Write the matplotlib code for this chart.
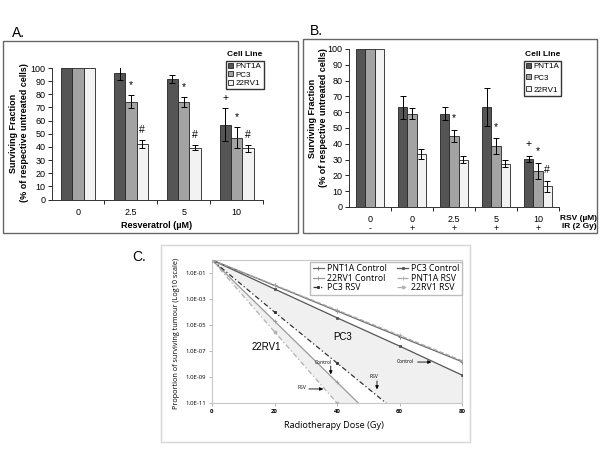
import numpy as np
import matplotlib.pyplot as plt
from matplotlib.patches import Rectangle, Patch
from matplotlib.lines import Line2D
from matplotlib.ticker import FixedLocator, NullFormatter

plt.rcParams['font.family'] = ['Liberation Sans', 'DejaVu Sans']

# ---- panel A: resveratrol alone ----
doses_a = ['0', '2.5', '5', '10']
cell_lines = ['PNT1A', 'PC3', '22RV1']
a_vals = {
    'PNT1A': [100, 96, 91.5, 57],
    'PC3': [100, 74.5, 74, 47],
    '22RV1': [100, 42, 39.5, 39],
}
a_err = {
    'PNT1A': [0, 5, 3, 12.5],
    'PC3': [0, 5, 4, 8],
    '22RV1': [0, 3, 2, 2.5],
}
a_marks = {
    'PNT1A': ['', '', '', '+'],
    'PC3': ['', '*', '*', '*'],
    '22RV1': ['', '#', '#', '#'],
}

# ---- panel B: resveratrol + IR ----
rsv_labels = ['0', '0', '2.5', '5', '10']
ir_labels = ['-', '+', '+', '+', '+']
b_vals = {
    'PNT1A': [100, 63, 59, 63.5, 30.5],
    'PC3': [100, 59, 45, 38.5, 23],
    '22RV1': [100, 33.5, 30, 27.5, 13],
}
b_err = {
    'PNT1A': [0, 7, 4, 12, 2],
    'PC3': [0, 3.5, 4, 5, 5],
    '22RV1': [0, 3, 2, 2.5, 3.5],
}
b_marks = {
    'PNT1A': ['', '', '', '', '+'],
    'PC3': ['', '', '*', '*', '*'],
    '22RV1': ['', '', '', '', '#'],
}

# ---- panel C: modelled tumour survival ----
dose_gy = [0, 20, 40, 60, 80]
surv = {
    'PNT1A Control': [1, 1.1e-2, 1.2e-4, 1.3e-6, 1.5e-8],
    'PC3 Control': [1, 5.9e-3, 3.6e-5, 2.4e-7, 1.4e-9],
    '22RV1 Control': [1, 2e-5, 4e-10, 8e-15, 1.6e-19],
    'PNT1A RSV': [1, 1.2e-2, 1.4e-4, 1.6e-6, 1.8e-8],
    'PC3 RSV': [1, 1e-4, 1.2e-8, 1.4e-12, 1.6e-16],
    '22RV1 RSV': [1, 3e-6, 1e-11, 3e-17, 1e-22],
}

bar_colors = {'PNT1A': '#555555', 'PC3': '#a3a3a3', '22RV1': '#f2f2f2'}
line_styles = {
    'PNT1A Control': dict(color='#6a6a6a', ls='-', marker='+', ms=3),
    'PC3 Control': dict(color='#555555', ls='-', marker='s', ms=2),
    '22RV1 Control': dict(color='#9a9a9a', ls='-', marker='+', ms=3),
    'PNT1A RSV': dict(color='#a8a8a8', ls='--', marker='+', ms=2.5),
    'PC3 RSV': dict(color='#333333', ls=(0, (4, 2, 1, 2)), marker='s', ms=2),
    '22RV1 RSV': dict(color='#b0b0b0', ls=(0, (4, 2, 1, 2)), marker='o', ms=2),
}

W, H = 600, 450


def box(x0, y0, x1, y1):
    return [x0 / W, 1 - y1 / H, (x1 - x0) / W, (y1 - y0) / H]


def fxy(x, y):
    return x / W, 1 - y / H


fig = plt.figure(figsize=(6, 4.5), dpi=100)

# panel frames
fig.patches.append(Rectangle((3 / W, 1 - 233 / H), 295 / W, 192 / H, transform=fig.transFigure,
                             fill=False, edgecolor='#666666', lw=1))
fig.patches.append(Rectangle((303 / W, 1 - 233 / H), 294 / W, 194 / H, transform=fig.transFigure,
                             fill=False, edgecolor='#666666', lw=1))
fig.patches.append(Rectangle((161 / W, 1 - 442 / H), 309 / W, 197 / H, transform=fig.transFigure,
                             fill=False, edgecolor='#d6d6d6', lw=1))


def bar_panel(ax, cats, vals, errs, marks, w=0.215):
    x = np.arange(len(cats))
    for i, cl in enumerate(cell_lines):
        xi = x + (i - 1) * w
        ax.bar(xi, vals[cl], w, color=bar_colors[cl], edgecolor='#222222', lw=0.6, zorder=2)
        e = np.array(errs[cl])
        ax.errorbar(xi[e > 0], np.array(vals[cl])[e > 0], yerr=e[e > 0], fmt='none',
                    ecolor='black', elinewidth=0.7, capsize=2.5, capthick=0.7, zorder=3)
        for xx, v, ee, m in zip(xi, vals[cl], errs[cl], marks[cl]):
            if m:
                ax.text(xx, v + ee + 4, m, ha='center', va='bottom', fontsize=7.5)
    ax.set_xlim(-0.5, len(cats) - 0.5)
    ax.set_ylim(0, 100)
    ax.set_yticks(range(0, 101, 10))
    ax.spines[['top', 'right']].set_visible(False)
    for s in ['left', 'bottom']:
        ax.spines[s].set_color('#333333')
        ax.spines[s].set_linewidth(0.7)
    ax.xaxis.set_minor_locator(FixedLocator(np.arange(0.5, len(cats), 1.0)))
    ax.xaxis.set_minor_formatter(NullFormatter())
    ax.tick_params(axis='x', which='major', length=0, pad=6, labelsize=6.5)
    ax.tick_params(axis='x', which='minor', length=3, width=0.6, direction='out')
    ax.tick_params(axis='y', length=3, width=0.6, labelsize=6.5, pad=1.5)


def cell_legend(ax, anchor, spacing):
    handles = [Patch(facecolor=bar_colors[c], edgecolor='#222222', lw=0.6, label=c) for c in cell_lines]
    ax.legend(handles=handles, loc='upper right', bbox_to_anchor=anchor, bbox_transform=fig.transFigure,
              fontsize=5.8, frameon=True, fancybox=False, edgecolor='#333333', framealpha=1,
              handlelength=0.6, handleheight=0.6, handletextpad=0.3, labelspacing=spacing,
              borderpad=0.25, borderaxespad=0)


# ---- A ----
axA = fig.add_axes(box(51.6, 68, 263, 199.5))
bar_panel(axA, doses_a, a_vals, a_err, a_marks)
axA.set_xticks(range(len(doses_a)))
axA.set_xticklabels(doses_a)
cell_legend(axA, fxy(263.5, 60.5), 0.15)
fig.text(*fxy(245, 55), 'Cell Line', ha='center', va='center', fontsize=6, fontweight='bold')
fig.text(*fxy(19, 41 + 92), 'Surviving Fraction\n(% of respective untreated cells)', rotation=90,
         ha='center', va='center', fontsize=6.5, fontweight='bold', linespacing=1.3)
fig.text(*fxy(157, 225.5), 'Resveratrol (µM)', ha='center', va='center', fontsize=6.5, fontweight='bold')
fig.text(*fxy(12, 33), 'A.', ha='left', va='center', fontsize=10)

# ---- B ----
axB = fig.add_axes(box(349, 49, 559, 207))
bar_panel(axB, rsv_labels, b_vals, b_err, b_marks)
axB.set_xticks(range(len(rsv_labels)))
axB.set_xticklabels([f'{r}\n{i}' for r, i in zip(rsv_labels, ir_labels)], linespacing=0.95)
cell_legend(axB, fxy(561, 60.5), 0.55)
fig.text(*fxy(543, 55), 'Cell Line', ha='center', va='center', fontsize=6, fontweight='bold')
fig.text(*fxy(318, 118), 'Surviving Fraction\n(% of respective untreated cells)', rotation=90,
         ha='center', va='center', fontsize=6.5, fontweight='bold', linespacing=1.3)
fig.text(*fxy(578, 218), 'RSV (µM)', ha='center', va='center', fontsize=6, fontweight='bold')
fig.text(*fxy(579, 226.5), 'IR (2 Gy)', ha='center', va='center', fontsize=6, fontweight='bold')
fig.text(*fxy(310, 31), 'B.', ha='left', va='center', fontsize=10)

# ---- C ----
cfont = ['Open Sans', 'DejaVu Sans']
axC = fig.add_axes(box(212, 260, 462, 403))
axC.set_yscale('log')
axC.fill_between(dose_gy, surv['PC3 Control'], surv['PC3 RSV'], color='#f0f0f0', lw=0, zorder=1)
axC.fill_between(dose_gy, surv['22RV1 Control'], surv['22RV1 RSV'], color='#f0f0f0', lw=0, zorder=1)
order = ['PNT1A Control', '22RV1 Control', 'PC3 RSV', 'PC3 Control', 'PNT1A RSV', '22RV1 RSV']
handles = []
for name in order:
    st = line_styles[name]
    ln, = axC.plot(dose_gy, surv[name], color=st['color'], ls=st['ls'], lw=0.9, marker=st['marker'],
                   ms=st['ms'], mec=st['color'], mfc=st['color'], mew=0.6, zorder=3, label=name)
    handles.append(ln)
axC.set_xlim(0, 80)
axC.set_ylim(1e-11, 1)
axC.set_xticks([0, 20, 40, 60, 80])
axC.set_yticks([1e-1, 1e-3, 1e-5, 1e-7, 1e-9, 1e-11])
axC.set_yticklabels(['1.0E-01', '1.0E-03', '1.0E-05', '1.0E-07', '1.0E-09', '1.0E-11'])
axC.yaxis.set_minor_locator(FixedLocator([]))
for s in axC.spines.values():
    s.set_color('#c8c8c8')
    s.set_linewidth(0.8)
axC.tick_params(axis='both', length=2, width=0.5, color='#999999', labelsize=4.3, pad=2)
for lab in axC.get_xticklabels() + axC.get_yticklabels():
    lab.set_family(cfont)
for lab in axC.get_xticklabels():
    lab.set_fontweight('bold')

leg = axC.legend(handles=handles, loc='upper right', bbox_to_anchor=fxy(462, 261.5),
                 bbox_transform=fig.transFigure, ncol=2, fontsize=6.3, frameon=True, fancybox=False,
                 edgecolor='#bdbdbd', framealpha=1, handlelength=1.3, handletextpad=0.3,
                 columnspacing=1.2, labelspacing=0.05, borderpad=0.3, borderaxespad=0,
                 prop={'family': cfont, 'size': 6.3})

axC.text(41.8, 10 ** -5.9, 'PC3', ha='center', va='center', fontsize=7)
axC.text(17.5, 10 ** -6.67, '22RV1', ha='center', va='center', fontsize=7)

arrows = [
    ('Control', (35.5, -7.85), (38, -8.15), (38, -8.8)),
    ('RSV', (28.7, -9.8), (31, -9.92), (35.6, -9.92)),
    ('RSV', (51.8, -9.0), (52.8, -9.3), (52.8, -9.95)),
    ('Control', (62, -7.77), (65.8, -7.85), (70.2, -7.85)),
]
for txt, tpos, start, tip in arrows:
    axC.text(tpos[0], 10 ** tpos[1], txt, ha='center', va='center', fontsize=3.6, family=cfont)
    axC.annotate('', xy=(tip[0], 10 ** tip[1]), xytext=(start[0], 10 ** start[1]),
                 arrowprops=dict(arrowstyle='-|>', color='black', lw=0.6, mutation_scale=5,
                                 shrinkA=0, shrinkB=0))

fig.text(*fxy(176, 333), 'Proportion of surviving tumour (Log10 scale)', rotation=90,
         ha='center', va='center', fontsize=5.2, family=cfont)
fig.text(*fxy(334, 425), 'Radiotherapy Dose (Gy)', ha='center', va='center', fontsize=6.6, family=cfont)
fig.text(*fxy(132, 257), 'C.', ha='left', va='center', fontsize=10)

fig.savefig('out.png', dpi=100)
